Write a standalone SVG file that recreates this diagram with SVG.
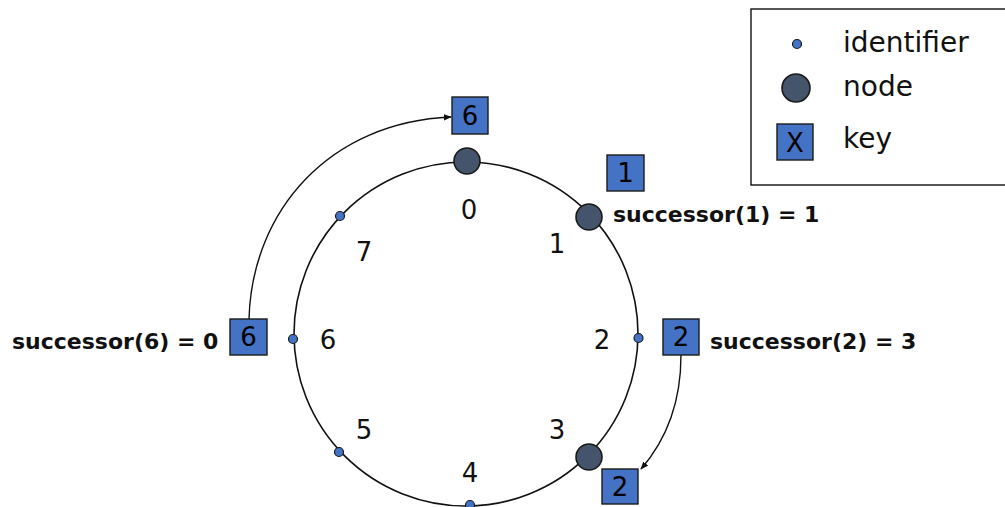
<svg xmlns="http://www.w3.org/2000/svg" width="1005" height="507" viewBox="0 0 1005 507">
  <style>
    .ring { fill: none; stroke: #111; stroke-width: 1.6; }
    .ident { fill: #4472C4; stroke: #1a1a1a; stroke-width: 1.2; }
    .node { fill: #44546A; stroke: #1a1a1a; stroke-width: 1.6; }
    .key { fill: #4472C4; stroke: #1a1a1a; stroke-width: 1.4; }
    .keytxt { font-family: "DejaVu Sans", Verdana, sans-serif; font-size: 26px; fill: #000; text-anchor: middle; }
    .num { font-family: "DejaVu Sans", Verdana, sans-serif; font-size: 26px; fill: #111; text-anchor: middle; }
    .succ { font-family: "DejaVu Sans", Verdana, sans-serif; font-size: 22px; font-weight: bold; fill: #111; }
    .legend { font-family: "DejaVu Sans", Verdana, sans-serif; font-size: 28px; fill: #111; }
    .conn { fill: none; stroke: #111; stroke-width: 1.4; }
  </style>
  <defs>
    <marker id="arrow" viewBox="0 0 10 10" refX="9" refY="5" markerWidth="8" markerHeight="8" orient="auto" markerUnits="userSpaceOnUse">
      <path d="M0,1 L10,5 L0,9 z" fill="#111"/>
    </marker>
  </defs>

  <!-- legend -->
  <g id="legend">
    <rect x="751" y="9" width="260" height="176" fill="#fff" stroke="#111" stroke-width="1.4"/>
    <circle class="ident" cx="797" cy="44" r="4.5"/>
    <text class="legend" x="843" y="52">identifier</text>
    <circle class="node" cx="796" cy="88" r="14"/>
    <text class="legend" x="843" y="96">node</text>
    <rect class="key" x="777" y="124" width="36" height="36"/>
    <text class="keytxt" x="795" y="152">X</text>
    <text class="legend" x="843" y="148">key</text>
  </g>

  <!-- identifier ring -->
  <g id="ring">
    <circle class="ring" cx="466" cy="334" r="172"/>
  </g>

  <!-- connectors: keys handed to their successors -->
  <g id="connectors">
    <path class="conn" d="M249,319 C252,210 330,122 451,117" marker-end="url(#arrow)"/>
    <path class="conn" d="M681,355 C681,400 668,438 641,469" marker-end="url(#arrow)"/>
  </g>

  <!-- identifiers 0..7 -->
  <g id="id0">
    <circle class="node" cx="467" cy="161" r="13"/>
    <text class="num" x="469" y="219">0</text>
  </g>
  <g id="id1">
    <circle class="node" cx="589" cy="217" r="13"/>
    <text class="num" x="557" y="253">1</text>
  </g>
  <g id="id2">
    <circle class="ident" cx="638.5" cy="338" r="4.5"/>
    <text class="num" x="602" y="349">2</text>
  </g>
  <g id="id3">
    <circle class="node" cx="589" cy="457" r="13"/>
    <text class="num" x="557" y="439">3</text>
  </g>
  <g id="id4">
    <circle class="ident" cx="470" cy="505" r="4.5"/>
    <text class="num" x="470" y="482">4</text>
  </g>
  <g id="id5">
    <circle class="ident" cx="339" cy="452" r="4.5"/>
    <text class="num" x="364" y="439">5</text>
  </g>
  <g id="id6">
    <circle class="ident" cx="293" cy="339" r="4.5"/>
    <text class="num" x="328" y="349">6</text>
  </g>
  <g id="id7">
    <circle class="ident" cx="340" cy="216" r="4.5"/>
    <text class="num" x="364" y="261">7</text>
  </g>

  <!-- keys -->
  <g id="key1">
    <rect class="key" x="607" y="155" width="37" height="36"/>
    <text class="keytxt" x="625.5" y="182">1</text>
    <text class="succ" x="613" y="222">successor(1) = 1</text>
  </g>
  <g id="key2">
    <rect class="key" x="663" y="319" width="36" height="36"/>
    <text class="keytxt" x="681" y="346">2</text>
    <text class="succ" x="710" y="349">successor(2) = 3</text>
  </g>
  <g id="key2-stored">
    <rect class="key" x="602" y="469" width="36" height="35"/>
    <text class="keytxt" x="620" y="496">2</text>
  </g>
  <g id="key6">
    <rect class="key" x="230" y="319" width="37" height="36"/>
    <text class="keytxt" x="248.5" y="346">6</text>
    <text class="succ" x="12" y="349">successor(6) = 0</text>
  </g>
  <g id="key6-stored">
    <rect class="key" x="452" y="97" width="36" height="37"/>
    <text class="keytxt" x="470" y="125">6</text>
  </g>
</svg>
